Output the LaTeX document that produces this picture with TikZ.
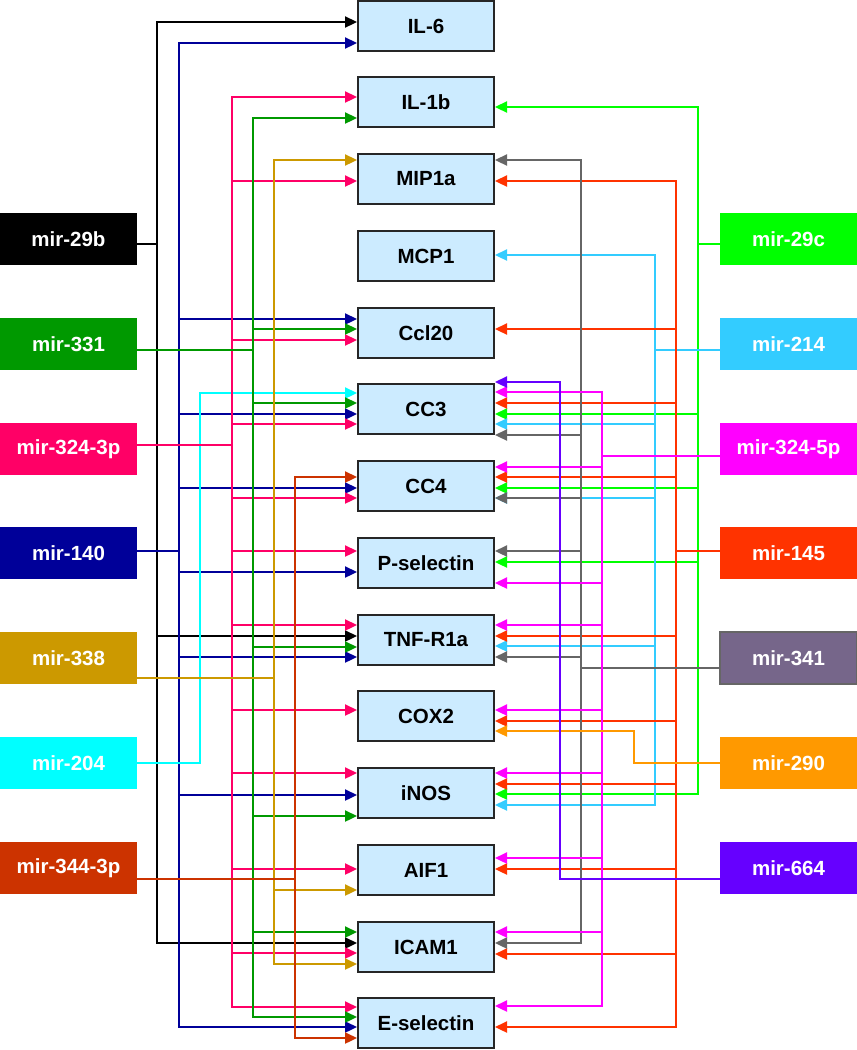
\documentclass[tikz,border=0pt]{standalone}
\usepackage{fontspec}
\setsansfont{Liberation Sans}
\usepackage{tikz}
\usetikzlibrary{arrows.meta}

\definecolor{c29b}{HTML}{000000}
\definecolor{c331}{HTML}{009900}
\definecolor{c324a}{HTML}{FF0066}
\definecolor{c140}{HTML}{000099}
\definecolor{c338}{HTML}{CC9900}
\definecolor{c204}{HTML}{00FFFF}
\definecolor{c344}{HTML}{CC3300}
\definecolor{c29c}{HTML}{00FF00}
\definecolor{c214}{HTML}{33CCFF}
\definecolor{c324b}{HTML}{FF00FF}
\definecolor{c145}{HTML}{FF3300}
\definecolor{c341}{HTML}{666666}
\definecolor{c341box}{HTML}{76668A}
\definecolor{c290}{HTML}{FF9900}
\definecolor{c664}{HTML}{6600FF}
\definecolor{cellblue}{HTML}{CCEBFF}

\tikzset{
    target/.style = {draw = black!85, line width = 2pt, fill = cellblue,
        minimum width = 136pt, minimum height = 50pt, inner sep = 0pt,
        font = \sffamily\bfseries\fontsize{20.5}{24}\selectfont},
    mirna/.style = {fill = #1, minimum width = 137pt, minimum height = 52pt,
        inner sep = 0pt, text = white,
        font = \sffamily\bfseries\fontsize{20.5}{24}\selectfont},
    wire/.style = {draw = #1, line width = 2.3pt},
    link/.style = {wire = #1, -{Triangle[length = 12pt, width = 11pt]}},
    trunk/.style = {wire = #1,
        {Triangle[length = 12pt, width = 11pt]}-{Triangle[length = 12pt, width = 11pt]}}
}

\begin{document}
\begin{tikzpicture}[x = 1pt, y = -1pt]
        \useasboundingbox (0, 0) rectangle (857, 1050);

        % targets
        \node[target] (il6)   at (426, 26)   {IL-6};
        \node[target] (il1b)  at (426, 102)  {IL-1b};
        \node[target] (mip1a) at (426, 179)  {MIP1a};
        \node[target] (mcp1)  at (426, 256)  {MCP1};
        \node[target] (ccl20) at (426, 333)  {Ccl20};
        \node[target] (cc3)   at (426, 409)  {CC3};
        \node[target] (cc4)   at (426, 486)  {CC4};
        \node[target] (psel)  at (426, 563)  {P-selectin};
        \node[target] (tnf)   at (426, 640)  {TNF-R1a};
        \node[target] (cox2)  at (426, 716)  {COX2};
        \node[target] (inos)  at (426, 793)  {iNOS};
        \node[target] (aif1)  at (426, 870)  {AIF1};
        \node[target] (icam)  at (426, 947)  {ICAM1};
        \node[target] (esel)  at (426, 1023) {E-selectin};

        % left mirnas
        \node[mirna = c29b]  (m29b)  at (68.5, 239) {mir-29b};
        \node[mirna = c331]  (m331)  at (68.5, 344) {mir-331};
        \node[mirna = c324a] (m324a) at (68.5, 449) {mir-324-3p};
        \node[mirna = c140]  (m140)  at (68.5, 553) {mir-140};
        \node[mirna = c338]  (m338)  at (68.5, 658) {mir-338};
        \node[mirna = c204]  (m204)  at (68.5, 763) {mir-204};
        \node[mirna = c344]  (m344)  at (68.5, 868) {mir-344-3p};

        % right mirnas
        \node[mirna = c29c]  (m29c)  at (788.5, 239) {mir-29c};
        \node[mirna = c214]  (m214)  at (788.5, 344) {mir-214};
        \node[mirna = c324b] (m324b) at (788.5, 449) {mir-324-5p};
        \node[mirna = c145]  (m145)  at (788.5, 553) {mir-145};
        \node[mirna = c341box, draw = c341, line width = 1.5pt] (m341) at (788.5, 658) {mir-341};
        \node[mirna = c290]  (m290)  at (788.5, 763) {mir-290};
        \node[mirna = c664]  (m664)  at (788.5, 868) {mir-664};

        % mir-29b
        \draw[wire = c29b] (m29b.east |- 0, 244) -- (157, 244);
        \draw[trunk = c29b] (il6.west |- 0, 22) -| (157, 943) -- (icam.west |- 0, 943);
        \foreach \t/\y in {tnf/636}
            \draw[link = c29b] (157, \y) -- (\t.west |- 0, \y);

        % mir-140
        \draw[wire = c140] (m140.east |- 0, 551) -- (179, 551);
        \draw[trunk = c140] (il6.west |- 0, 43) -| (179, 1027) -- (esel.west |- 0, 1027);
        \foreach \t/\y in {ccl20/319, cc3/414, cc4/488, psel/572, tnf/657, inos/795}
            \draw[link = c140] (179, \y) -- (\t.west |- 0, \y);

        % mir-204
        \draw[link = c204] (m204.east |- 0, 763) -| (200, 393) -- (cc3.west |- 0, 393);

        % mir-324-3p
        \draw[wire = c324a] (m324a.east |- 0, 445) -- (232, 445);
        \draw[trunk = c324a] (il1b.west |- 0, 97) -| (232, 1007) -- (esel.west |- 0, 1007);
        \foreach \t/\y in {mip1a/181, ccl20/340, cc3/424, cc4/498, psel/551, tnf/625,
                cox2/710, inos/773, aif1/869, icam/953}
            \draw[link = c324a] (232, \y) -- (\t.west |- 0, \y);

        % mir-331
        \draw[wire = c331] (m331.east |- 0, 350) -- (253, 350);
        \draw[trunk = c331] (il1b.west |- 0, 118) -| (253, 1017) -- (esel.west |- 0, 1017);
        \foreach \t/\y in {ccl20/329, cc3/403, tnf/647, inos/816, icam/932}
            \draw[link = c331] (253, \y) -- (\t.west |- 0, \y);

        % mir-338
        \draw[wire = c338] (m338.east |- 0, 678) -- (274, 678);
        \draw[trunk = c338] (mip1a.west |- 0, 160) -| (274, 964) -- (icam.west |- 0, 964);
        \foreach \t/\y in {aif1/890}
            \draw[link = c338] (274, \y) -- (\t.west |- 0, \y);

        % mir-344-3p
        \draw[wire = c344] (m344.east |- 0, 879) -- (295, 879);
        \draw[trunk = c344] (cc4.west |- 0, 477) -| (295, 1038) -- (esel.west |- 0, 1038);

        % mir-29c
        \draw[wire = c29c] (m29c.west |- 0, 244) -- (698, 244);
        \draw[trunk = c29c] (il1b.east |- 0, 107) -| (698, 794) -- (inos.east |- 0, 794);
        \foreach \t/\y in {cc3/414, cc4/488, psel/562}
            \draw[link = c29c] (698, \y) -- (\t.east |- 0, \y);

        % mir-214
        \draw[wire = c214] (m214.west |- 0, 350) -- (655, 350);
        \draw[trunk = c214] (mcp1.east |- 0, 255) -| (655, 805) -- (inos.east |- 0, 805);
        \foreach \t/\y in {cc3/424, cc4/498, tnf/646}
            \draw[link = c214] (655, \y) -- (\t.east |- 0, \y);

        % mir-145
        \draw[wire = c145] (m145.west |- 0, 551) -- (676, 551);
        \draw[trunk = c145] (mip1a.east |- 0, 181) -| (676, 1027) -- (esel.east |- 0, 1027);
        \foreach \t/\y in {ccl20/329, cc3/403, cc4/477, tnf/636, cox2/721, inos/784,
                aif1/869, icam/954}
            \draw[link = c145] (676, \y) -- (\t.east |- 0, \y);

        % mir-341
        \draw[wire = c341] (m341.west |- 0, 668) -- (581, 668);
        \draw[trunk = c341] (mip1a.east |- 0, 160) -| (581, 943) -- (icam.east |- 0, 943);
        \foreach \t/\y in {cc3/435, cc4/498, psel/551, tnf/657}
            \draw[link = c341] (581, \y) -- (\t.east |- 0, \y);

        % mir-324-5p
        \draw[wire = c324b] (m324b.west |- 0, 456) -- (602, 456);
        \draw[trunk = c324b] (cc3.east |- 0, 392) -| (602, 1006) -- (esel.east |- 0, 1006);
        \foreach \t/\y in {cc4/467, psel/583, tnf/625, cox2/710, inos/773, aif1/858, icam/932}
            \draw[link = c324b] (602, \y) -- (\t.east |- 0, \y);

        % mir-290
        \draw[link = c290] (m290.west |- 0, 763) -| (634, 731) -- (cox2.east |- 0, 731);

        % mir-664
        \draw[link = c664] (m664.west |- 0, 879) -| (560, 382) -- (cc3.east |- 0, 382);
    \end{tikzpicture}
\end{document}
